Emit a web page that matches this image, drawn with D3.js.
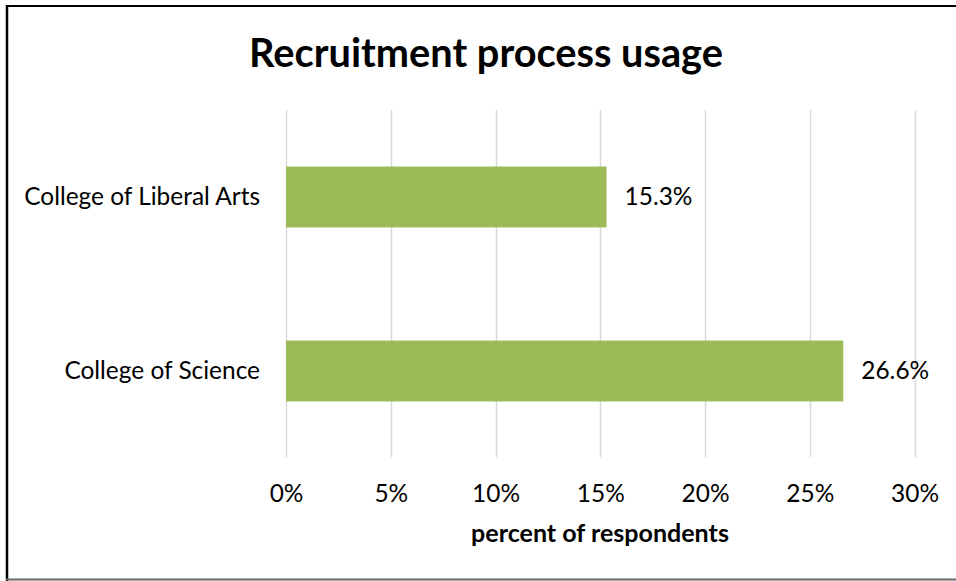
<!DOCTYPE html>
<html>
<head>
<meta charset="utf-8">
<script src="https://cdn.jsdelivr.net/npm/d3@7"></script>
<style>
  html, body { margin: 0; padding: 0; background: #fff; }
  svg { display: block; }
  text { font-family: Lato, "Open Sans", "DejaVu Sans", sans-serif; fill: #000; }
</style>
</head>
<body>
<svg id="chart" width="956" height="581"></svg>
<script>
// Chart data
const chartTitle = "Recruitment process usage";
const axisTitle = "percent of respondents";
const categories = ["College of Liberal Arts", "College of Science"];
const values = [15.3, 26.6];
const tickValues = [0, 5, 10, 15, 20, 25, 30];

const W = 956, H = 581;
const svg = d3.select("#chart");

// Frame lines
svg.append("line").attr("x1", 6).attr("x2", W).attr("y1", 6).attr("y2", 6)
  .attr("stroke", "#000").attr("stroke-width", 2);
svg.append("line").attr("x1", 7).attr("x2", 7).attr("y1", 5).attr("y2", H)
  .attr("stroke", "#000").attr("stroke-width", 2.5);
svg.append("line").attr("x1", 6).attr("x2", W).attr("y1", 579.5).attr("y2", 579.5)
  .attr("stroke", "#666").attr("stroke-width", 2);

const plot = { left: 286, right: 914.5, top: 110, bottom: 457 };

const x = d3.scaleLinear().domain([0, 30]).range([plot.left, plot.right]);
const y = d3.scaleBand().domain(categories).range([plot.top, plot.bottom + 1])
  .paddingInner(0.65).paddingOuter(0.325);

// Size a text element so its rendered width equals the given width
function fitWidth(sel, width, start) {
  sel.style("font-size", start + "px");
  const w = sel.node().getComputedTextLength();
  const size = start * width / w;
  sel.style("font-size", size + "px");
  return size;
}

// Vertical gridlines
svg.append("g").selectAll("line").data(tickValues).join("line")
  .attr("x1", d => Math.round(x(d)) + 0.5).attr("x2", d => Math.round(x(d)) + 0.5)
  .attr("y1", plot.top).attr("y2", plot.bottom)
  .attr("stroke", "#d9d9d9").attr("stroke-width", 1.5);

// Bars
svg.append("g").selectAll("rect").data(values).join("rect")
  .attr("x", x(0))
  .attr("y", (d, i) => y(categories[i]))
  .attr("width", d => x(d) - x(0))
  .attr("height", y.bandwidth())
  .attr("fill", "#9bbb59");

// Title
const title = svg.append("text")
  .attr("x", 486).attr("y", 67)
  .attr("text-anchor", "middle")
  .style("font-weight", "bold")
  .text(chartTitle);
fitWidth(title, 474, 36);

// Category labels
const catLabels = svg.append("g").selectAll("text").data(categories).join("text")
  .attr("x", 260)
  .attr("y", d => y(d) + y.bandwidth() / 2 + 7.5)
  .attr("text-anchor", "end")
  .text(d => d);
const labelSize = fitWidth(d3.select(catLabels.nodes()[0]), 236, 22);
catLabels.style("font-size", labelSize + "px");

// Value labels
svg.append("g").selectAll("text").data(values).join("text")
  .attr("x", d => x(d) + 18)
  .attr("y", (d, i) => y(categories[i]) + y.bandwidth() / 2 + 8)
  .style("font-size", labelSize + "px")
  .text(d => d.toFixed(1) + "%");

// X axis tick labels
const xAxis = d3.axisBottom(x).tickValues(tickValues).tickFormat(d => d + "%").tickSize(0).tickPadding(0);
const axisG = svg.append("g").attr("transform", "translate(0,485)").call(xAxis);
axisG.select(".domain").remove();
axisG.selectAll("text")
  .attr("dy", null).attr("y", 16.5)
  .style("font-size", labelSize + "px")
  .attr("fill", "#000");
axisG.attr("font-family", null).attr("font-size", null);

// Axis title
const xTitle = svg.append("text")
  .attr("x", 600).attr("y", 542)
  .attr("text-anchor", "middle")
  .style("font-weight", "bold")
  .text(axisTitle);
fitWidth(xTitle, 258, 22);
</script>
</body>
</html>
